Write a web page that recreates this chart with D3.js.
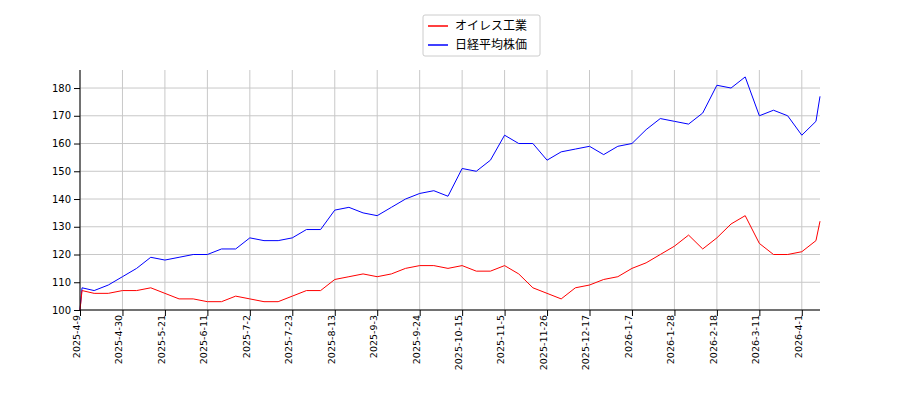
<!DOCTYPE html>
<html><head><meta charset="utf-8">
<script src="https://cdn.jsdelivr.net/npm/d3@7"></script>
<style>body{margin:0;background:#fff}text{font-family:"DejaVu Sans",sans-serif}</style>
</head><body><div id="chart"></div>
<script>
var dates = ["2025-04-09","2025-04-10","2025-04-16","2025-04-23","2025-04-30","2025-05-07","2025-05-14","2025-05-21","2025-05-28","2025-06-04","2025-06-11","2025-06-18","2025-06-25","2025-07-02","2025-07-09","2025-07-16","2025-07-23","2025-07-30","2025-08-06","2025-08-13","2025-08-20","2025-08-27","2025-09-03","2025-09-10","2025-09-17","2025-09-24","2025-10-01","2025-10-08","2025-10-15","2025-10-22","2025-10-29","2025-11-05","2025-11-12","2025-11-19","2025-11-26","2025-12-03","2025-12-10","2025-12-17","2025-12-24","2025-12-31","2026-01-07","2026-01-14","2026-01-21","2026-01-28","2026-02-04","2026-02-11","2026-02-18","2026-02-25","2026-03-04","2026-03-11","2026-03-18","2026-03-25","2026-04-01","2026-04-08","2026-04-10"];
var nikkei = [100,108,107,109,112,115,119,118,119,120,120,122,122,126,125,125,126,129,129,136,137,135,134,137,140,142,143,141,151,150,154,163,160,160,154,157,158,159,156,159,160,165,169,168,167,171,181,180,184,170,172,170,163,168,177];
var oiles = [100,107,106,106,107,107,108,106,104,104,103,103,105,104,103,103,105,107,107,111,112,113,112,113,115,116,116,115,116,114,114,116,113,108,106,104,108,109,111,112,115,117,120,123,127,122,126,131,134,124,120,120,121,125,132];
var yTicks = [100,110,120,130,140,150,160,170,180];
var seriesNames = ["オイレス工業","日経平均株価"];

var parse = d3.timeParse("%Y-%m-%d");
var margin = {top: 70, right: 80, bottom: 90, left: 80},
    width = 900 - margin.left - margin.right,
    height = 400 - margin.top - margin.bottom;

var svg = d3.select("#chart").append("svg")
    .attr("width", 900).attr("height", 400)
  .append("g")
    .attr("transform", "translate(" + margin.left + "," + margin.top + ")");

var x = d3.scaleTime()
  .domain([parse(dates[0]), parse(dates[dates.length - 1])])
  .range([0, width]);
var y = d3.scaleLinear().domain([100, 186.5]).range([height, 0]);

var xTicks = d3.range(0, 18).map(function(i) { return d3.timeDay.offset(parse("2025-04-09"), i * 21); })
  .filter(function(d) { return d <= x.domain()[1]; });

// grid
svg.selectAll(".gx").data(xTicks).enter().append("line")
  .attr("x1", function(d) { return x(d); }).attr("x2", function(d) { return x(d); })
  .attr("y1", 0).attr("y2", height).attr("stroke", "#c8c8c8");
svg.selectAll(".gy").data(yTicks).enter().append("line")
  .attr("x1", 0).attr("x2", width)
  .attr("y1", function(d) { return y(d); }).attr("y2", function(d) { return y(d); })
  .attr("stroke", "#c8c8c8");

var line = function(vals) {
  return d3.line()
    .x(function(d, i) { return x(parse(dates[i])); })
    .y(function(d) { return y(d); })(vals);
};
svg.append("path").attr("d", line(nikkei)).attr("fill", "none").attr("stroke", "blue").attr("stroke-width", 1);
svg.append("path").attr("d", line(oiles)).attr("fill", "none").attr("stroke", "red").attr("stroke-width", 1);

// left and bottom spines only
svg.append("line").attr("x1", 0).attr("x2", 0).attr("y1", 0).attr("y2", height).attr("stroke", "black");
svg.append("line").attr("x1", 0).attr("x2", width).attr("y1", height).attr("y2", height).attr("stroke", "black");

var fmt = function(d) { return d.getFullYear() + "-" + (d.getMonth() + 1) + "-" + d.getDate(); };
svg.append("g")
  .attr("transform", "translate(0," + height + ")")
  .call(d3.axisBottom(x).tickValues(xTicks).tickFormat(fmt).tickSizeOuter(0))
  .call(function(g) { g.select(".domain").remove(); })
  .selectAll("text")
    .attr("transform", "rotate(-90)")
    .attr("x", -5).attr("y", -4).attr("dy", "0.35em")
    .style("text-anchor", "end").style("font-size", "9.5px");

svg.append("g")
  .call(d3.axisLeft(y).tickValues(yTicks).tickSizeOuter(0))
  .call(function(g) { g.select(".domain").remove(); })
  .selectAll("text").style("font-size", "10px");

// legend
var lg = d3.select("svg").append("g").attr("transform", "translate(423,15)");
lg.append("rect").attr("width", 117).attr("height", 41)
  .attr("fill", "white").attr("stroke", "#cccccc").attr("rx", 2);
[["red", seriesNames[0]], ["blue", seriesNames[1]]].forEach(function(s, i) {
  lg.append("line").attr("x1", 5).attr("x2", 25).attr("y1", 11 + i * 19).attr("y2", 11 + i * 19)
    .attr("stroke", s[0]).attr("stroke-width", 1.5);
  lg.append("text").attr("x", 32).attr("y", 15 + i * 19).text(s[1])
    .style("font-size", "12px").style("font-family", "'Noto Sans CJK JP',sans-serif");
});
</script></body></html>
